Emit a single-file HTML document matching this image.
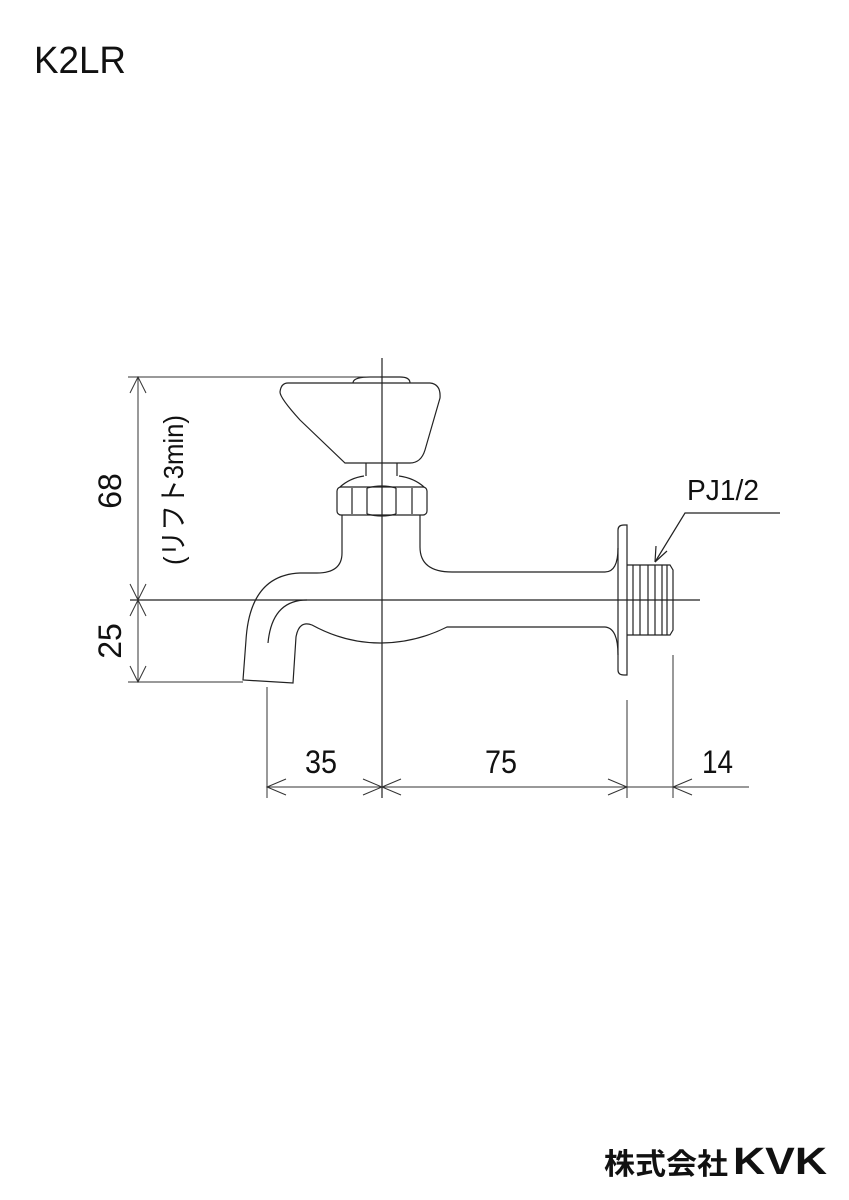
<!DOCTYPE html>
<html><head><meta charset="utf-8"><style>
html,body{margin:0;padding:0;background:#fff}
svg{display:block}
text{font-family:"Liberation Sans Narrow","Liberation Sans","Noto Sans CJK JP",sans-serif;fill:#111}
</style></head><body>
<svg width="849" height="1200" viewBox="0 0 849 1200" xmlns="http://www.w3.org/2000/svg">
<text x="34" y="73" font-size="38" textLength="92" lengthAdjust="spacingAndGlyphs">K2LR</text>
<g fill="none" stroke="#222" stroke-width="1.2">
<line x1="382" y1="358" x2="382" y2="798"/>
<line x1="130" y1="600" x2="700" y2="600"/>
<path d="M353,383 Q353,377 370,377 L400,377 Q410,377 410,383"/>
<path d="M288,383 L430,383 Q441,384 440,398 L425,450 Q421,463 410,463 L345,463 L300,420 Q280,398 280,392 Q281,383 288,383 Z"/>
<path d="M366,463 V476 M397,463 V476"/>
<path d="M364,476 Q350,478 340,487 M399,476 Q414,478 424,487"/>
<rect x="337" y="487" width="90" height="28" rx="4"/>
<path d="M352,488 V514 M367,488 V514 M396,488 V514 M412,488 V514"/>
<path d="M367,488 Q382,484 396,488 M367,514 Q382,518 396,514"/>
<path d="M342,515 V553 Q342,573 317,573 L300,573 Q250,575 246,640 L243,680 L293,683 L296,637 Q299,620 312,625 Q345,643 380,643 Q415,643 447,627 L605,627 Q618,628 618,655"/>
<path d="M268,643 Q272,600 307,600"/>
<path d="M420,515 V547 Q420,572 452,572 L605,572 Q618,572 618,548"/>
<path d="M618,530 Q618,525 624,525 L627,525 V675 L624,675 Q618,675 618,670 Z"/>
<path d="M627,565 L670,565 L673,570 L673,630 L670,635 L627,635"/>
<path d="M633,565 V635 M640,565 V635 M648,565 V635 M655,565 V635 M662,565 V635 M667,565 V635"/>
<path d="M780,513 L685,513 L655,562"/>
<path d="M655,562 L656,546 M655,562 L667,551"/>
</g>
<g fill="none" stroke="#333" stroke-width="1">
<line x1="128" y1="377" x2="380" y2="377"/>
<line x1="128" y1="682" x2="243" y2="682"/>
<line x1="138" y1="377" x2="138" y2="682"/>
<path d="M130,393 L138,377 L146,393 M130,584 L138,600 L146,584 M130,616 L138,600 L146,616 M130,666 L138,682 L146,666"/>
<line x1="267" y1="687" x2="267" y2="798"/>
<line x1="627" y1="700" x2="627" y2="798"/>
<line x1="673" y1="655" x2="673" y2="798"/>
<line x1="267" y1="787" x2="749" y2="787"/>
<path d="M286,779 L267,787 L286,795 M363,779 L382,787 L363,795 M401,779 L382,787 L401,795 M608,779 L627,787 L608,795 M692,779 L673,787 L692,795"/>
</g>
<text x="305" y="773" font-size="32" textLength="32" lengthAdjust="spacingAndGlyphs">35</text>
<text x="485" y="773" font-size="32" textLength="32" lengthAdjust="spacingAndGlyphs">75</text>
<text x="702" y="773" font-size="32" textLength="31" lengthAdjust="spacingAndGlyphs">14</text>
<text x="687" y="500" font-size="29" textLength="72" lengthAdjust="spacingAndGlyphs">PJ1/2</text>
<text transform="translate(121,491) rotate(-90)" font-size="32" text-anchor="middle">68</text>
<text transform="translate(121,641) rotate(-90)" font-size="32" text-anchor="middle">25</text>
<text transform="translate(183,490) rotate(-90)" font-size="28" text-anchor="middle" textLength="150" lengthAdjust="spacingAndGlyphs">(リフト3min)</text>
<text x="604" y="1174" font-size="29" font-weight="bold" textLength="124" lengthAdjust="spacingAndGlyphs" style="font-family:'Liberation Sans','Noto Sans CJK JP',sans-serif">株式会社</text>
<text x="733" y="1174" font-size="38" font-weight="bold" textLength="94" lengthAdjust="spacingAndGlyphs" style="font-family:'Liberation Sans',sans-serif">KVK</text>
</svg>
</body></html>
